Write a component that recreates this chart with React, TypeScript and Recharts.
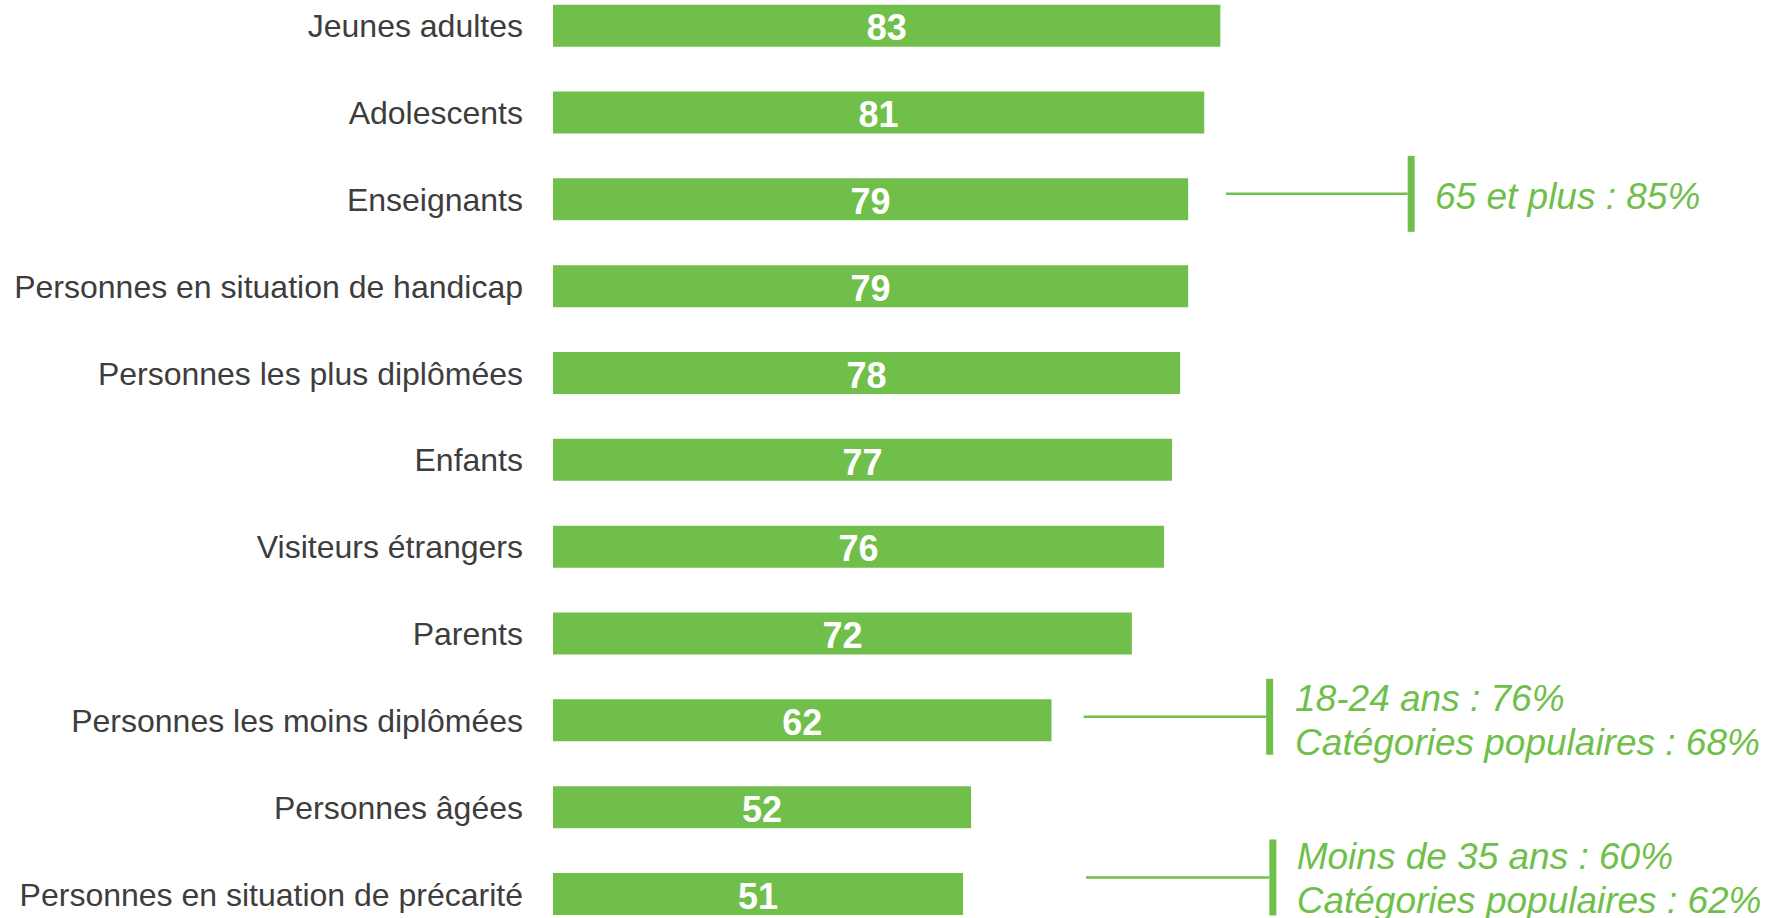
import React from 'react'
import { Bar, BarChart, LabelList, XAxis, YAxis } from 'recharts'

const categories = [
  'Jeunes adultes',
  'Adolescents',
  'Enseignants',
  'Personnes en situation de handicap',
  'Personnes les plus diplômées',
  'Enfants',
  'Visiteurs étrangers',
  'Parents',
  'Personnes les moins diplômées',
  'Personnes âgées',
  'Personnes en situation de précarité',
]

const scores = [83, 81, 79, 79, 78, 77, 76, 72, 62, 52, 51]

// sub-group callouts shown to the right of some bars
const notes: (string[] | null)[] = [
  null,
  null,
  ['65 et plus : 85%'],
  null,
  null,
  null,
  null,
  null,
  ['18-24 ans : 76%', 'Catégories populaires : 68%'],
  null,
  ['Moins de 35 ans : 60%', 'Catégories populaires : 62%'],
]

const data = categories.map((name, i) => ({ name, score: scores[i] }))

const GREEN = '#70bf4b'
const FONT = '"Liberation Sans", Arial, sans-serif'

// where each callout sits, in axis units (x) and pixels (dy, textDy)
const noteLayout: Record<number, { from: number; to: number; text: number; dy: number; textDy: number }> = {
  2: { from: 83.7, to: 106.3, text: 109.7, dy: -5.5, textDy: 2 },
  8: { from: 66, to: 88.7, text: 92.3, dy: -3.5, textDy: 3 },
  10: { from: 66.3, to: 89.1, text: 92.5, dy: -16.5, textDy: 1 },
}

function CategoryTick({ x, y, payload }: any) {
  return (
    <text x={x} y={y} dy='0.35em' textAnchor='end' fontSize={32} fill='#3d3d3d' fontFamily={FONT}>
      {payload.value}
    </text>
  )
}

function NoteMark(props: any) {
  const { index } = props
  const lines = notes[index]
  const layout = noteLayout[index]
  if (!lines || !layout) return null
  const vb = props.viewBox ?? props
  const unit = vb.width / scores[index]
  const cy = vb.y + vb.height / 2 + layout.dy
  const x0 = vb.x + unit * layout.from
  const x1 = vb.x + unit * layout.to
  const tx = vb.x + unit * layout.text
  return (
    <g>
      <line x1={x0} y1={cy} x2={x1} y2={cy} stroke={GREEN} strokeWidth={2.5} />
      <rect x={x1} y={cy - 38} width={7} height={76} fill={GREEN} />
      {lines.map((line, k) => (
        <text
          key={line}
          x={tx}
          y={cy + layout.textDy + (k - (lines.length - 1) / 2) * 44}
          dy='0.35em'
          fontSize={37}
          fontStyle='italic'
          fill={GREEN}
          fontFamily={FONT}
        >
          {line}
        </text>
      ))}
    </g>
  )
}

export default function App() {
  return (
    <div style={{ position: 'absolute', left: 0, top: -20 }}>
      <BarChart
        width={1769}
        height={960}
        data={data}
        layout='vertical'
        margin={{ top: 2.65, right: 412, bottom: 2.2, left: 0 }}
        style={{ fontFamily: FONT }}
      >
        <XAxis type='number' domain={[0, 100]} hide />
        <YAxis
          type='category'
          dataKey='name'
          width={553}
          axisLine={false}
          tickLine={false}
          tickSize={0}
          tickMargin={30}
          interval={0}
          tick={<CategoryTick />}
        />
        <Bar dataKey='score' fill={GREEN} barSize={42} isAnimationActive={false}>
          <LabelList dataKey='score' position='center' fill='#ffffff' fontSize={36} fontWeight='bold' dy={2} />
          <LabelList dataKey='score' content={<NoteMark />} />
        </Bar>
      </BarChart>
    </div>
  )
}
